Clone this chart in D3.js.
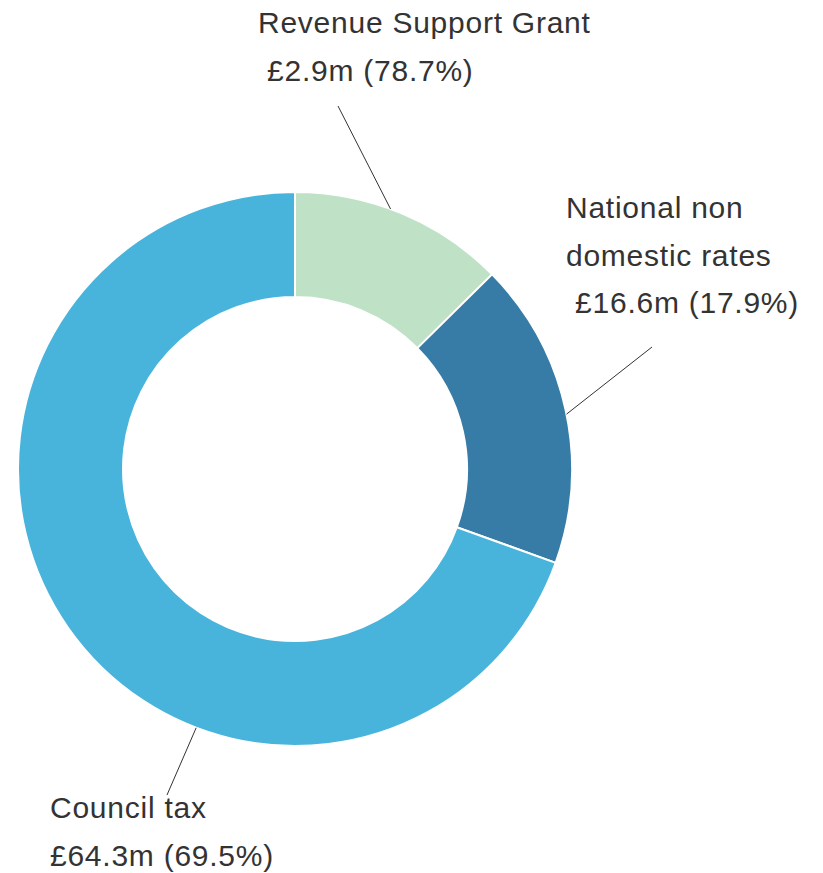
<!DOCTYPE html>
<meta charset="utf-8">
<style>
body{ margin:0; background:#fff; }
text{
   font-family:"Liberation Sans", Arial, sans-serif;
   font-size:30px;
   letter-spacing:0.75px;
   fill:#333;
}
.slice path{
   stroke:#fff;
   stroke-width:2px;
}
.leader{
   stroke:#333;
   stroke-width:1px;
}
</style>
<body>
<script src="https://cdn.jsdelivr.net/npm/d3@7"></script>
<script>
// share of income as drawn (percent)
var categories = ["Revenue Support Grant", "National non domestic rates", "Council tax"];
var shares = [12.6, 17.9, 69.5];
var labelLines = [
   ["Revenue Support Grant", " £2.9m (78.7%)"],
   ["National non", "domestic rates", " £16.6m (17.9%)"],
   ["Council tax", "£64.3m (69.5%)"]
];
var colors = ["#bfe2c7", "#377ca6", "#48b4db"];

var W = 823, H = 873;
var cx = 295, cy = 469, rOuter = 277, rInner = 172;

var svg = d3.select("body").append("svg").attr("width", W).attr("height", H);
var g = svg.append("g").attr("transform", "translate(" + cx + "," + cy + ")");

var pie = d3.pie().sort(null).value(d => d.value);
var arc = d3.arc().innerRadius(rInner).outerRadius(rOuter);

var data = categories.map((c, i) => ({name: c, value: shares[i], lines: labelLines[i], color: colors[i]}));
var arcs = pie(data);

g.selectAll(".slice").data(arcs).enter().append("g").attr("class", "slice")
   .append("path")
   .attr("d", arc)
   .attr("fill", d => d.data.color);

// leader lines: where they touch the ring (angle offset from slice middle) and where the label sits
var leaderAngleShift = [-2.5, 1, -34];
var labelPos = [[-37, -436], [271, -251], [-245, 349]];
var leaderEnd = [[43, -363], [357, -122], [-128, 326]];

arcs.forEach(function(a, i){
   var ang = (a.startAngle + a.endAngle) / 2 + leaderAngleShift[i] * Math.PI / 180;
   var x0 = Math.sin(ang) * rOuter, y0 = -Math.cos(ang) * rOuter;
   g.append("line").attr("class", "leader")
      .attr("x1", x0).attr("y1", y0)
      .attr("x2", leaderEnd[i][0]).attr("y2", leaderEnd[i][1]);

   var t = g.append("text").attr("x", labelPos[i][0]).attr("y", labelPos[i][1])
      .attr("xml:space", "preserve");
   a.data.lines.forEach(function(l, j){
      t.append("tspan").attr("x", labelPos[i][0]).attr("dy", j ? 47.5 : 0).text(l);
   });
});
</script>
</body>
</html>
